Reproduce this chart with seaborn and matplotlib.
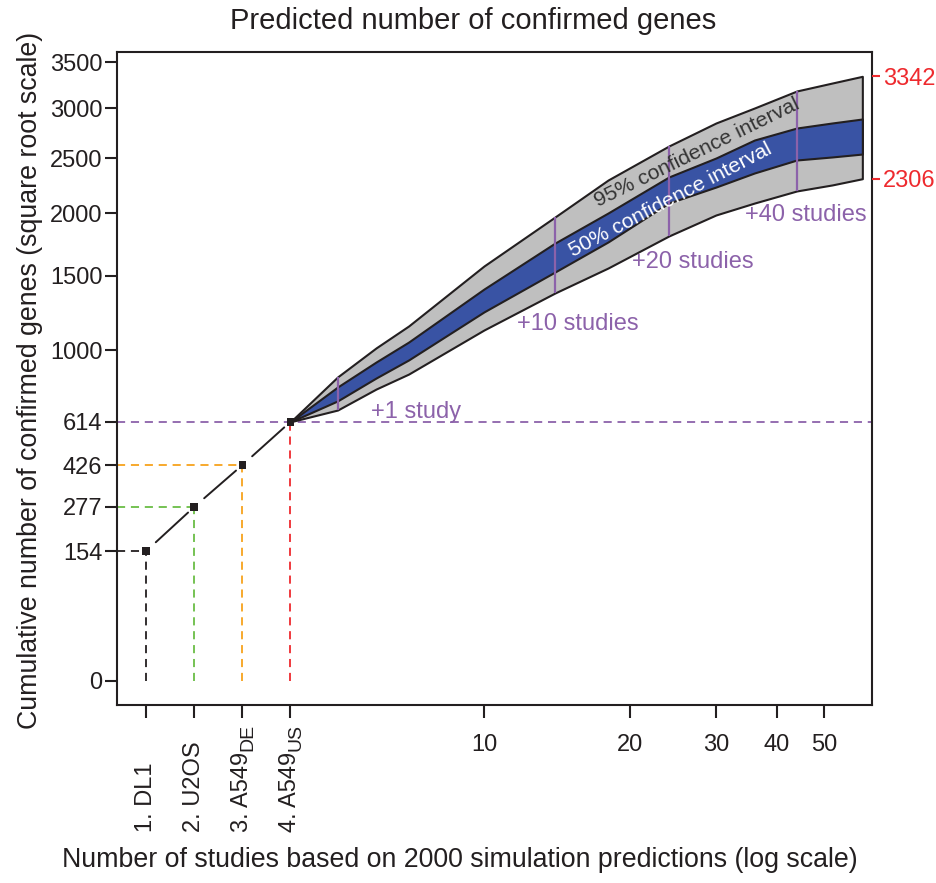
import numpy as np
import matplotlib
matplotlib.use("Agg")
import matplotlib.pyplot as plt
import matplotlib.transforms as mtransforms
from matplotlib.ticker import NullLocator
import seaborn as sns

# ---------------- data ----------------
study_main = ["1. DL1", "2. U2OS", "3. A549", "4. A549"]
study_sub = ["", "", "DE", "US"]
study_pos = [1, 2, 3, 4]
confirmed = [154, 277, 426, 614]

pred_x = [4, 5, 6, 7, 10, 14, 18, 24, 30, 36, 44, 52, 60]
upper95 = [614, 845, 1014, 1152, 1574, 1968, 2294, 2616, 2846, 3001, 3182, 3268, 3342]
upper50 = [614, 790, 930, 1050, 1404, 1753, 2002, 2322, 2500, 2675, 2795, 2846, 2887]
lower50 = [614, 717, 839, 942, 1245, 1529, 1762, 2088, 2230, 2359, 2481, 2510, 2538]
lower95 = [614, 671, 779, 861, 1126, 1376, 1559, 1810, 1985, 2088, 2195, 2249, 2306]

future_marks = [5, 14, 24, 44]
future_labels = ["+1 study", "+10 studies", "+20 studies", "+40 studies"]

y_ticks = [0, 154, 277, 426, 614, 1000, 1500, 2000, 2500, 3000, 3500]
x_ticks_num = [10, 20, 30, 40, 50]
right_ticks = [2306, 3342]

# ---------------- style ----------------
BLACK = "#231F20"
GREEN = "#6ABD45"
ORANGE = "#F7A21D"
RED = "#EE2A2E"
PURPLE = "#8C62AA"
GRAY = "#BFBFBF"
BLUE = "#3953A4"
guide_colors = [BLACK, GREEN, ORANGE, RED]

sns.set_theme(style="ticks")
plt.rcParams["font.family"] = ["Liberation Sans", "DejaVu Sans"]
FS = 17

# x: linear spacing for the first four studies, log beyond
D = 48.0 / 485.0
L4 = np.log10(4.0)


def xf(x):
    x = np.asarray(x, dtype=float)
    return np.where(x >= 4, np.log10(np.maximum(x, 4)), L4 - (4 - x) * D)


def xinv(t):
    t = np.asarray(t, dtype=float)
    return np.where(t >= L4, 10 ** np.maximum(t, L4), 4 - (L4 - t) / D)


def yf(y):
    y = np.asarray(y, dtype=float)
    return np.sign(y) * np.sqrt(np.abs(y))


def yinv(t):
    t = np.asarray(t, dtype=float)
    return np.sign(t) * t ** 2


fig = plt.figure(figsize=(9.36, 8.83), dpi=100)
ax = fig.add_axes([0.125, 0.2016, 0.8066, 0.7395])
ax.set_xscale("function", functions=(xf, xinv))
ax.set_yscale("function", functions=(yf, yinv))
XMIN, XMAX = 0.396, 62.8
YMIN, YMAX = -5.26, 3616
ax.set_xlim(XMIN, XMAX)
ax.set_ylim(YMIN, YMAX)

# confidence bands
ax.fill_between(pred_x, lower95, upper95, facecolor=GRAY, edgecolor=BLACK,
                linewidth=1.5, zorder=2)
ax.fill_between(pred_x, lower50, upper50, facecolor=BLUE, edgecolor=BLACK,
                linewidth=1.5, zorder=2.1)

# future-study markers
for m in future_marks:
    i = pred_x.index(m)
    ax.vlines(m, lower95[i], upper95[i], colors=PURPLE, linewidth=1.6, zorder=3)

dash = (0, (4.5, 3.2))
# guide lines
ax.axhline(confirmed[3], color=PURPLE, linestyle=dash, linewidth=1.3, zorder=1)
for i in range(3):
    ax.hlines(confirmed[i], XMIN, study_pos[i], colors=guide_colors[i],
              linestyles=[dash], linewidth=1.3, zorder=1)
for i in range(4):
    ax.vlines(study_pos[i], 0, confirmed[i], colors=guide_colors[i],
              linestyles=[dash], linewidth=1.3, zorder=1)

# connecting line with gaps around the points
for i in range(3):
    ax.annotate("", xy=(study_pos[i + 1], confirmed[i + 1]),
                xytext=(study_pos[i], confirmed[i]),
                arrowprops=dict(arrowstyle="-", shrinkA=9.5, shrinkB=6,
                                lw=1.4, color=BLACK), zorder=3)

sns.scatterplot(x=study_pos, y=confirmed, marker="s", s=30, color=BLACK,
                edgecolor="none", ax=ax, zorder=5, legend=False)

# text annotations
ax.text(5.85, 661, future_labels[0], color=PURPLE, fontsize=FS, ha="left", va="center", zorder=4)
ax.text(11.7, 1165, future_labels[1], color=PURPLE, fontsize=FS, ha="left", va="center")
ax.text(20.2, 1605, future_labels[2], color=PURPLE, fontsize=FS, ha="left", va="center")
ax.text(34.4, 1985, future_labels[3], color=PURPLE, fontsize=FS, ha="left", va="center")
ax.text(27.4, 2550, "95% confidence interval", color="#333333", fontsize=15.3,
        ha="center", va="center", rotation=26, rotation_mode="anchor", zorder=4)
ax.text(24.2, 2115, "50% confidence interval", color="white", fontsize=15.3,
        ha="center", va="center", rotation=27.5, rotation_mode="anchor", zorder=4)

# axes styling
for s in ax.spines.values():
    s.set_linewidth(1.5)
    s.set_color(BLACK)
    s.set_visible(True)
ax.set_yticks(y_ticks)
ax.set_yticklabels([str(v) for v in y_ticks])
ax.set_xticks(study_pos + x_ticks_num)
ax.set_xticklabels([""] * 4 + [str(v) for v in x_ticks_num])
ax.xaxis.set_minor_locator(NullLocator())
ax.yaxis.set_minor_locator(NullLocator())
ax.tick_params(axis="y", length=8.5, width=1.5, labelsize=FS, pad=2, colors=BLACK)
ax.tick_params(axis="x", length=9, width=1.5, labelsize=FS, pad=12, colors=BLACK)

trans = mtransforms.blended_transform_factory(ax.transData, ax.transAxes)
for p, lab, sub in zip(study_pos, study_main, study_sub):
    t = ax.text(p, -0.195, lab, rotation=90, ha="center", va="bottom",
                fontsize=FS, transform=trans, color=BLACK)
    if sub:
        ax.annotate(sub, xy=(1.0, 1.0), xycoords=t, xytext=(2.5, 0.5),
                    textcoords="offset points", rotation=90, ha="right",
                    va="bottom", fontsize=14, color=BLACK)

# right axis with red ticks
ax2 = ax.twinx()
ax2.set_yscale("function", functions=(yf, yinv))
ax2.set_ylim(YMIN, YMAX)
ax2.set_yticks(right_ticks)
ax2.set_yticklabels([str(v) for v in right_ticks])
ax2.yaxis.set_minor_locator(NullLocator())
ax2.tick_params(axis="y", colors=RED, length=6, width=1.5, labelsize=FS, pad=2)
for s in ax2.spines.values():
    s.set_visible(False)

fig.text(473 / 936, 1 - 21 / 883, "Predicted number of confirmed genes",
         ha="center", va="center", fontsize=21, color=BLACK)
fig.text(30 / 936, 1 - 380 / 883, "Cumulative number of confirmed genes (square root scale)",
         ha="center", va="center", rotation=90, fontsize=19.3, color=BLACK)
fig.text(460 / 936, 1 - 860 / 883,
         "Number of studies based on 2000 simulation predictions (log scale)",
         ha="center", va="center", fontsize=19.3, color=BLACK)

fig.savefig("out.png", dpi=100)
